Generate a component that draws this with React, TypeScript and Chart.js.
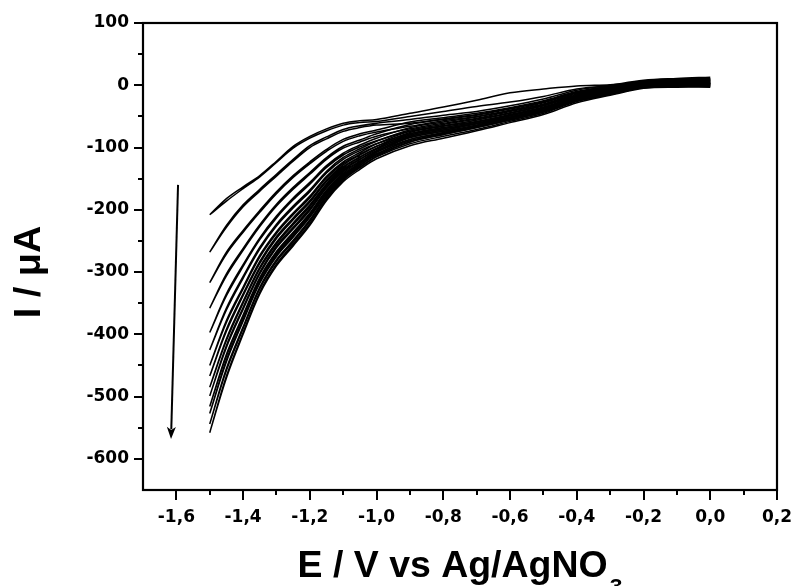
import { useEffect, useRef } from 'react';
import { Chart, registerables } from 'chart.js';

Chart.register(...registerables);

// Potential grid (V vs Ag/AgNO3) used by every scan branch
const potentials = [0, -0.1, -0.2, -0.3, -0.4, -0.5, -0.6, -0.7, -0.8, -0.9, -1.0, -1.05, -1.1, -1.15, -1.2, -1.25, -1.3, -1.35, -1.4, -1.45, -1.5];

// Current (µA) of each cycle: forward (cathodic) scan and reverse scan, at the potentials above
const cycle1Forward = [8, 7, 5, 1, -1, -6, -12, -24, -35, -45, -55, -57, -61, -70, -82, -98, -122, -145, -163, -182, -208];
const cycle1Reverse = [9, 7, 4, -1, -6, -18, -27, -34, -42, -50, -58, -60, -64, -73, -85, -101, -124, -147, -166, -186, -208];
const cycle2Forward = [11, 9, 6, -2, -11, -26, -37, -47, -54, -61, -64, -68, -74, -86, -100, -122, -146, -170, -195, -228, -268];
const cycle2Reverse = [13, 11, 8, 0, -8, -22, -33, -42, -48, -55, -61, -65, -71, -83, -97, -119, -143, -167, -192, -225, -268];
const cycle3Forward = [9, 7, 5, -4, -13, -28, -40, -50, -57, -66, -75, -81, -90, -106, -126, -148, -174, -204, -236, -271, -317];
const cycle3Reverse = [11, 10, 7, -2, -10, -25, -36, -45, -52, -59, -72, -78, -87, -103, -123, -145, -171, -201, -233, -268, -317];
const cycle4Forward = [7, 6, 3, -6, -15, -31, -42, -53, -61, -70, -82, -91, -101, -119, -143, -167, -194, -227, -265, -306, -358];
const cycle4Reverse = [10, 8, 5, -3, -12, -27, -38, -48, -55, -63, -78, -88, -98, -116, -140, -164, -191, -224, -262, -303, -358];
const cycle5Forward = [6, 5, 2, -7, -17, -33, -45, -56, -65, -74, -89, -99, -112, -132, -159, -184, -213, -248, -291, -338, -397];
const cycle5Reverse = [8, 7, 4, -5, -14, -30, -41, -51, -59, -68, -85, -96, -109, -129, -156, -181, -210, -245, -288, -335, -397];
const cycle6Forward = [4, 3, 1, -9, -19, -36, -48, -59, -68, -78, -94, -105, -119, -141, -171, -197, -226, -263, -310, -361, -425];
const cycle6Reverse = [7, 5, 3, -6, -16, -32, -44, -54, -63, -72, -90, -102, -116, -138, -168, -194, -223, -260, -307, -358, -425];
const cycle7Forward = [3, 3, 0, -10, -20, -37, -49, -61, -70, -80, -98, -111, -126, -149, -181, -208, -238, -276, -327, -381, -450];
const cycle7Reverse = [6, 5, 2, -7, -17, -33, -45, -56, -65, -74, -94, -108, -123, -146, -178, -205, -235, -273, -324, -378, -450];
const cycle8Forward = [3, 2, 0, -10, -21, -38, -51, -62, -72, -82, -102, -115, -131, -155, -188, -216, -246, -286, -338, -395, -467];
const cycle8Reverse = [5, 4, 2, -8, -18, -35, -47, -58, -66, -76, -98, -112, -128, -152, -185, -213, -243, -283, -335, -392, -467];
const cycle9Forward = [2, 1, -1, -11, -22, -40, -52, -64, -74, -84, -105, -119, -135, -161, -195, -224, -255, -295, -350, -410, -485];
const cycle9Reverse = [4, 3, 1, -9, -19, -36, -48, -59, -68, -78, -101, -116, -132, -158, -192, -221, -252, -292, -347, -407, -485];
const cycle10Forward = [1, 0, -2, -12, -23, -41, -53, -65, -76, -87, -107, -122, -139, -165, -201, -231, -261, -303, -360, -421, -499];
const cycle10Reverse = [3, 3, 0, -10, -20, -37, -49, -61, -70, -80, -103, -119, -136, -162, -198, -228, -258, -300, -357, -418, -499];
const cycle11Forward = [0, 0, -2, -13, -24, -42, -55, -67, -78, -89, -110, -126, -144, -171, -208, -239, -270, -312, -372, -435, -516];
const cycle11Reverse = [3, 2, 0, -10, -21, -38, -51, -62, -72, -82, -106, -123, -141, -168, -205, -236, -267, -309, -369, -432, -516];
const cycle12Forward = [-1, -1, -3, -14, -25, -43, -56, -68, -79, -91, -112, -128, -147, -175, -212, -244, -275, -318, -379, -444, -527];
const cycle12Reverse = [2, 1, -1, -11, -22, -40, -52, -64, -74, -84, -108, -125, -144, -172, -209, -241, -272, -315, -376, -441, -527];
const cycle13Forward = [-2, -2, -4, -15, -26, -45, -58, -71, -82, -94, -115, -132, -151, -180, -219, -252, -283, -327, -391, -458, -544];
const cycle13Reverse = [1, 0, -2, -12, -23, -41, -54, -66, -77, -87, -111, -129, -148, -177, -216, -249, -280, -324, -388, -455, -544];
const cycle14Forward = [-3, -3, -5, -16, -28, -47, -60, -73, -85, -97, -118, -135, -155, -185, -225, -258, -290, -335, -400, -470, -558];
const cycle14Reverse = [-1, -1, -3, -14, -25, -43, -56, -68, -79, -91, -114, -132, -152, -182, -222, -255, -287, -332, -397, -467, -558];

const forwardScans = [cycle1Forward, cycle2Forward, cycle3Forward, cycle4Forward, cycle5Forward, cycle6Forward, cycle7Forward, cycle8Forward, cycle9Forward, cycle10Forward, cycle11Forward, cycle12Forward, cycle13Forward, cycle14Forward];
const reverseScans = [cycle1Reverse, cycle2Reverse, cycle3Reverse, cycle4Reverse, cycle5Reverse, cycle6Reverse, cycle7Reverse, cycle8Reverse, cycle9Reverse, cycle10Reverse, cycle11Reverse, cycle12Reverse, cycle13Reverse, cycle14Reverse];

// Arrow annotation (data coordinates): increasing cycle number
const arrowFrom = { x: -1.595, y: -160 };
const arrowTo = { x: -1.616, y: -568 };

const xTitle = 'E / V vs Ag/AgNO';
const xTitleSub = '3';
const yTitle = 'I / μA';

const X_MIN = -1.7;
const X_MAX = 0.2;
const Y_MIN = -650;
const Y_MAX = 100;

function fmtX(v: number): string {
  const r = Math.round(v * 10);
  if (r % 2 !== 0) return '';
  const val = r / 10;
  return (Math.abs(val) < 1e-9 ? 0 : val).toFixed(1).replace('.', ',');
}

function fmtY(v: number): string {
  const r = Math.round(v);
  if (r % 100 !== 0) return '';
  return String(r);
}

const decorPlugin = {
  id: 'decor',
  afterDraw(chart: any) {
    const ctx = chart.ctx as CanvasRenderingContext2D;
    const { left, right, top, bottom } = chart.chartArea;
    const xs = chart.scales.x;
    const ys = chart.scales.y;
    ctx.save();
    ctx.strokeStyle = '#000';
    ctx.fillStyle = '#000';

    // frame
    ctx.lineWidth = 2.2;
    ctx.strokeRect(left, top, right - left, bottom - top);

    // x ticks (outward, below)
    ctx.lineWidth = 2;
    xs.ticks.forEach((t: any) => {
      const r = Math.round(t.value * 10);
      if (r === -17) return;
      const px = Math.round(xs.getPixelForValue(t.value));
      const len = r % 2 === 0 ? 10 : 5;
      ctx.beginPath();
      ctx.moveTo(px, bottom);
      ctx.lineTo(px, bottom + len);
      ctx.stroke();
    });
    // y ticks (outward, left)
    ys.ticks.forEach((t: any) => {
      const r = Math.round(t.value);
      if (r === -650) return;
      const py = Math.round(ys.getPixelForValue(t.value));
      const len = r % 100 === 0 ? 9 : 5;
      ctx.beginPath();
      ctx.moveTo(left, py);
      ctx.lineTo(left - len, py);
      ctx.stroke();
    });

    // arrow
    const ax0 = xs.getPixelForValue(arrowFrom.x);
    const ay0 = ys.getPixelForValue(arrowFrom.y);
    const ax1 = xs.getPixelForValue(arrowTo.x);
    const ay1 = ys.getPixelForValue(arrowTo.y);
    const ang = Math.atan2(ay1 - ay0, ax1 - ax0);
    const headLen = 12;
    const headHalf = 4.5;
    ctx.lineWidth = 2;
    ctx.beginPath();
    ctx.moveTo(ax0, ay0);
    ctx.lineTo(ax1 - Math.cos(ang) * headLen * 0.8, ay1 - Math.sin(ang) * headLen * 0.8);
    ctx.stroke();
    ctx.beginPath();
    ctx.moveTo(ax1, ay1);
    ctx.lineTo(ax1 - Math.cos(ang) * headLen - Math.sin(ang) * headHalf, ay1 - Math.sin(ang) * headLen + Math.cos(ang) * headHalf);
    ctx.lineTo(ax1 - Math.cos(ang) * headLen * 0.75, ay1 - Math.sin(ang) * headLen * 0.75);
    ctx.lineTo(ax1 - Math.cos(ang) * headLen + Math.sin(ang) * headHalf, ay1 - Math.sin(ang) * headLen - Math.cos(ang) * headHalf);
    ctx.closePath();
    ctx.fill();

    // x title with subscript
    const sx = 1.04;
    ctx.font = 'bold 36px "Liberation Sans", Arial, sans-serif';
    const mainW = ctx.measureText(xTitle).width;
    ctx.font = 'bold 22px "Liberation Sans", Arial, sans-serif';
    const subW = ctx.measureText(xTitleSub).width;
    const cx = (left + right) / 2;
    const total = (mainW + subW + 2) * sx;
    const startX = cx - total / 2;
    ctx.save();
    ctx.translate(startX, 0);
    ctx.scale(sx, 1);
    ctx.textAlign = 'left';
    ctx.textBaseline = 'alphabetic';
    ctx.font = 'bold 36px "Liberation Sans", Arial, sans-serif';
    ctx.fillText(xTitle, 0, 577);
    ctx.font = 'bold 22px "Liberation Sans", Arial, sans-serif';
    ctx.fillText(xTitleSub, mainW + 2, 594);
    ctx.restore();

    // y title rotated
    ctx.save();
    ctx.translate(40, 272);
    ctx.rotate(-Math.PI / 2);
    ctx.scale(1.05, 1);
    ctx.textAlign = 'center';
    ctx.textBaseline = 'alphabetic';
    ctx.font = 'bold 36px "Liberation Sans", Arial, sans-serif';
    ctx.fillText(yTitle, 0, 0);
    ctx.restore();

    ctx.restore();
  },
};

export default function App() {
  const ref = useRef<HTMLCanvasElement | null>(null);

  useEffect(() => {
    document.body.style.margin = '0';
    const canvas = ref.current;
    if (!canvas) return;

    const datasets = forwardScans.map((fwd, i) => {
      const rev = reverseScans[i];
      const pts: { x: number; y: number }[] = [];
      for (let j = 0; j < potentials.length; j++) pts.push({ x: potentials[j], y: fwd[j] });
      for (let j = potentials.length - 1; j >= 0; j--) pts.push({ x: potentials[j], y: rev[j] });
      return {
        label: `Cycle ${i + 1}`,
        data: pts,
        showLine: true,
        borderColor: '#000',
        borderWidth: 1.5,
        pointRadius: 0,
        fill: false,
        tension: 0.35,
      };
    });

    const tickFont = { family: '"DejaVu Sans", sans-serif', weight: 'bold' as const, size: 17 };

    const chart = new Chart(canvas, {
      type: 'scatter',
      data: { datasets },
      options: {
        animation: false,
        responsive: false,
        devicePixelRatio: 1,
        layout: { padding: { top: 23, right: 18, left: 0, bottom: 0 } },
        plugins: {
          legend: { display: false },
          tooltip: { enabled: false },
          title: { display: false },
        },
        scales: {
          x: {
            type: 'linear',
            min: X_MIN,
            max: X_MAX,
            border: { display: false },
            grid: { display: false, drawTicks: false },
            ticks: {
              stepSize: 0.1,
              autoSkip: false,
              maxRotation: 0,
              minRotation: 0,
              color: '#000',
              font: tickFont,
              padding: 17,
              callback: (v: any) => fmtX(Number(v)),
            },
            afterFit: (scale: any) => {
              scale.height = 96;
              scale.paddingLeft = 0;
              scale.paddingRight = 0;
            },
          },
          y: {
            type: 'linear',
            min: Y_MIN,
            max: Y_MAX,
            border: { display: false },
            grid: { display: false, drawTicks: false },
            ticks: {
              stepSize: 50,
              autoSkip: false,
              color: '#000',
              font: tickFont,
              padding: 14,
              callback: (v: any) => fmtY(Number(v)),
            },
            afterFit: (scale: any) => {
              scale.width = 143;
              scale.paddingTop = 0;
              scale.paddingBottom = 0;
            },
          },
        },
      },
      plugins: [decorPlugin],
    });

    return () => chart.destroy();
  }, []);

  return (
    <div style={{ position: 'fixed', left: 0, top: 0, width: 795, height: 586, background: '#fff' }}>
      <canvas ref={ref} width={795} height={586} />
    </div>
  );
}
